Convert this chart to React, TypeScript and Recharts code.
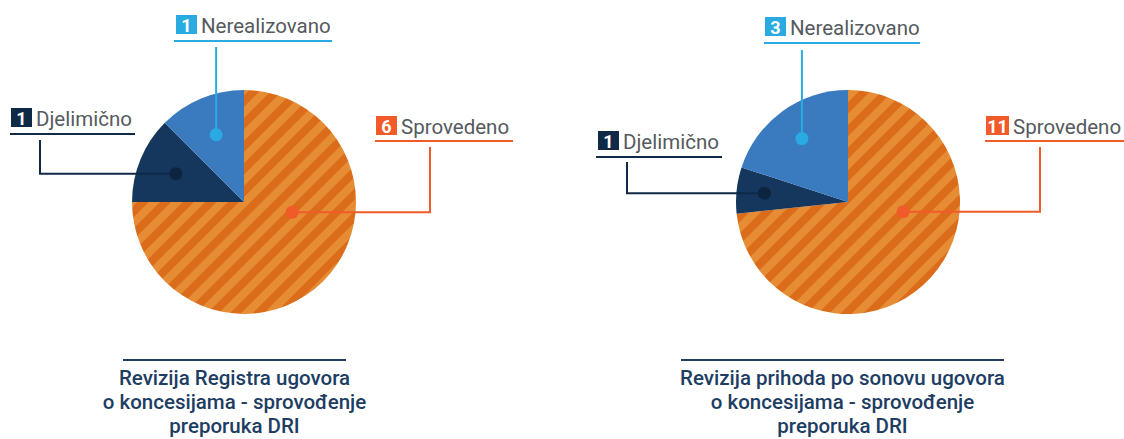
import { PieChart, Pie, Cell } from "recharts";

// Kategorije i vrijednosti za obje revizije
const CATEGORIES = ["Sprovedeno", "Djelimično", "Nerealizovano"];
const REGISTAR_VALUES = [6, 1, 1];
const PRIHODI_VALUES = [11, 1, 3];
const TITLES = [
  ["Revizija Registra ugovora", "o koncesijama - sprovođenje", "preporuka DRI"],
  ["Revizija prihoda po sonovu ugovora", "o koncesijama - sprovođenje", "preporuka DRI"],
];

const SLICE_FILL = ["url(#stripes)", "#15375d", "#3a7bbf"];
const ACCENT = ["#f15a29", "#0f2a47", "#29abe2"];
const DOT = ["#f15a29", "#0c2440", "#29abe2"];

const RAD = Math.PI / 180;

type LabelLayout = {
  box: [number, number];
  under: [number, number, number];
  top: number;
  elbow?: number;
  r: number;
  angle?: number;
};

const LEFT_LAYOUT: LabelLayout[] = [
  { box: [376, 116], under: [375, 513, 141], top: 147, elbow: 430, r: 0.44, angle: -12 },
  { box: [11, 108], under: [10, 135, 134], top: 140, elbow: 40, r: 0.66 },
  { box: [176, 15], under: [174, 332, 41], top: 47, r: 0.65 },
];

const RIGHT_LAYOUT: LabelLayout[] = [
  { box: [986, 116], under: [985, 1124, 141], top: 147, elbow: 1040, r: 0.5, angle: -10 },
  { box: [598, 131], under: [596, 722, 157], top: 162, elbow: 627, r: 0.75 },
  { box: [765, 17], under: [764, 920, 43], top: 50, r: 0.7 },
];

const toData = (values: number[]) =>
  CATEGORIES.map((name, i) => ({ name, value: values[i] }));

function makeLabel(layout: LabelLayout[]) {
  return (props: any) => {
    const { cx, cy, midAngle, outerRadius, index, value, name } = props;
    const l = layout[index];
    const ang = l.angle ?? midAngle;
    const r = outerRadius * l.r;
    const x = cx + r * Math.cos(-ang * RAD);
    const y = cy + r * Math.sin(-ang * RAD);
    const ex = l.elbow ?? x;
    const txt = String(value);
    const bw = txt.length === 1 ? 21 : 23;
    const [bx, by] = l.box;
    return (
      <g key={`lbl-${index}`}>
        <path d={`M${x},${y} H${ex} V${l.top}`} stroke={ACCENT[index]} strokeWidth={2} fill="none" />
        <circle cx={x} cy={y} r={6.5} fill={DOT[index]} />
        <line x1={l.under[0]} x2={l.under[1]} y1={l.under[2]} y2={l.under[2]} stroke={ACCENT[index]} strokeWidth={2} />
        <rect x={bx} y={by} width={bw} height={19} fill={ACCENT[index]} />
        <text x={bx + bw / 2} y={by + 17} textAnchor="middle" fill="#fff" fontSize={18} fontWeight={700} fontFamily="Roboto">
          {txt}
        </text>
        <text x={bx + bw + 4} y={by + 18} fill="#555a5e" fontSize={20.5} fontFamily="Roboto">
          {name}
        </text>
      </g>
    );
  };
}

function Title({ lines, left, width }: { lines: string[]; left: number; width: number }) {
  return (
    <div style={{ position: "absolute", left, top: 359, width, textAlign: "center" }}>
      <div style={{ borderTop: "2px solid #1d3d63", margin: "0 auto 5px" }} />
      {lines.map((t) => (
        <div
          key={t}
          style={{
            fontFamily: "Roboto",
            fontWeight: 500,
            fontSize: 20.5,
            lineHeight: "24px",
            color: "#1d3d63",
            whiteSpace: "nowrap",
            marginLeft: -40,
            marginRight: -40,
          }}
        >
          {t}
        </div>
      ))}
    </div>
  );
}

export default function App() {
  return (
    <div style={{ position: "absolute", left: 0, top: 0, width: 1124, height: 439, background: "#fff", overflow: "hidden" }}>
      <svg width={0} height={0} style={{ position: "absolute" }}>
        <defs>
          <pattern id="stripes" patternUnits="userSpaceOnUse" width={16} height={16} patternTransform="rotate(45)">
            <rect x={0} y={0} width={16} height={16} fill="#e68c35" />
            <rect x={0} y={0} width={8} height={16} fill="#db6c1a" />
          </pattern>
        </defs>
      </svg>
      <PieChart width={1124} height={439} margin={{ top: 0, right: 0, bottom: 0, left: 0 }}>
        <Pie
          data={toData(REGISTAR_VALUES)}
          dataKey="value"
          nameKey="name"
          cx={244}
          cy={202}
          outerRadius={112}
          startAngle={90}
          endAngle={-270}
          stroke="none"
          labelLine={false}
          label={makeLabel(LEFT_LAYOUT)}
          isAnimationActive={false}
        >
          {CATEGORIES.map((c, i) => (
            <Cell key={c} fill={SLICE_FILL[i]} />
          ))}
        </Pie>
        <Pie
          data={toData(PRIHODI_VALUES)}
          dataKey="value"
          nameKey="name"
          cx={848}
          cy={202}
          outerRadius={112}
          startAngle={90}
          endAngle={-270}
          stroke="none"
          labelLine={false}
          label={makeLabel(RIGHT_LAYOUT)}
          isAnimationActive={false}
        >
          {CATEGORIES.map((c, i) => (
            <Cell key={c} fill={SLICE_FILL[i]} />
          ))}
        </Pie>
      </PieChart>
      <Title lines={TITLES[0]} left={123} width={223} />
      <Title lines={TITLES[1]} left={681} width={323} />
    </div>
  );
}
